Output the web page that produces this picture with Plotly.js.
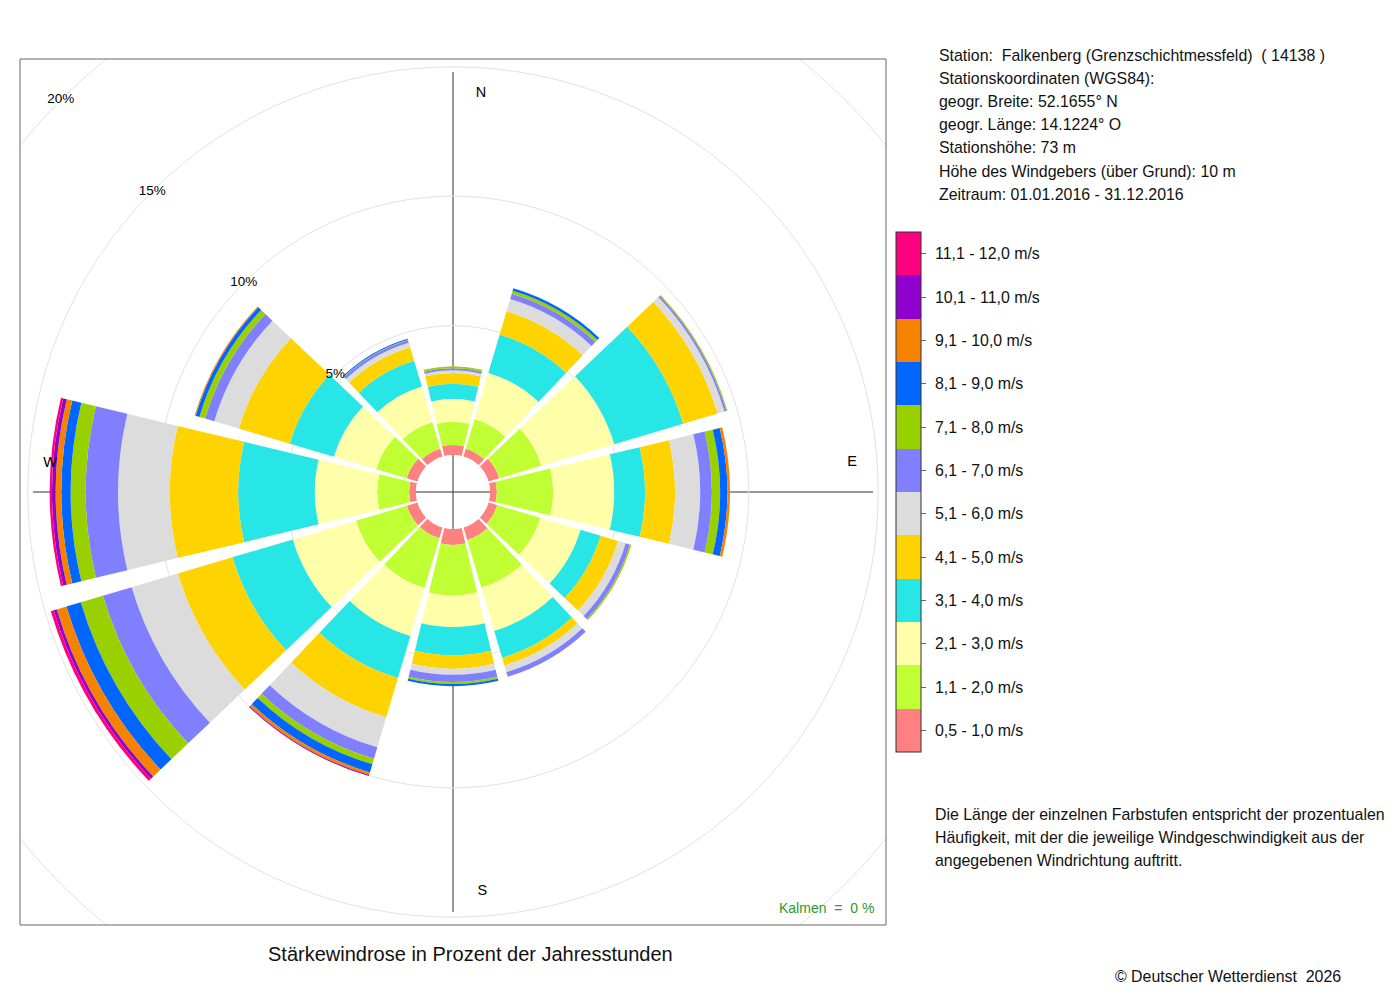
<!DOCTYPE html>
<html>
<head>
<meta charset="utf-8">
<script src="https://cdn.plot.ly/plotly-3.0.1.min.js"></script>
<style>
html,body{margin:0;padding:0;overflow:hidden;background:#fff;width:1400px;height:1000px;}
#chart{position:absolute;left:-200px;top:-200px;width:1600px;height:1400px;}
</style>
</head>
<body>
<div id="chart"></div>
<script>
// ---------------- data ----------------
const directions = [0, 30, 60, 90, 120, 150, 180, 210, 240, 270, 300, 330];
const speedClasses = [
  "0,5 - 1,0 m/s", "1,1 - 2,0 m/s", "2,1 - 3,0 m/s", "3,1 - 4,0 m/s",
  "4,1 - 5,0 m/s", "5,1 - 6,0 m/s", "6,1 - 7,0 m/s", "7,1 - 8,0 m/s",
  "8,1 - 9,0 m/s", "9,1 - 10,0 m/s", "10,1 - 11,0 m/s", "11,1 - 12,0 m/s"
];
const classColors = [
  "#FF8080", "#BFFF33", "#FFFFAA", "#29E6E6", "#FFD300", "#DCDCDC",
  "#8080FF", "#99D100", "#0066FF", "#F58200", "#8F00CC", "#FF0080"
];
// percent of annual hours, per direction (N, 30, 60, E, 120, 150, S, 210, 240, W, 300, 330)
const s05_10  = [0.39, 0.31, 0.43, 0.26, 0.35, 0.50, 0.62, 0.43, 0.43, 0.26, 0.43, 0.31];
const s11_20  = [0.89, 1.20, 1.70, 2.18, 1.74, 1.93, 1.94, 2.01, 2.05, 1.24, 1.24, 1.08];
const s21_30  = [0.89, 1.86, 2.94, 2.36, 1.62, 1.74, 1.23, 1.93, 2.55, 2.41, 1.70, 1.43];
const s31_40  = [0.58, 1.55, 2.78, 1.19, 0.81, 1.08, 1.09, 1.70, 2.43, 2.96, 1.78, 1.04];
const s41_50  = [0.42, 0.93, 1.39, 1.16, 0.70, 0.31, 0.52, 1.58, 2.20, 2.64, 2.05, 0.54];
const s51_60  = [0.10, 0.50, 0.27, 0.97, 0.31, 0.27, 0.23, 1.21, 1.86, 2.00, 0.99, 0.19];
const s61_70  = [0.08, 0.21, 0.08, 0.45, 0.17, 0.19, 0.28, 0.46, 1.16, 1.25, 0.37, 0.10];
const s71_80  = [0.08, 0.12, 0.04, 0.32, 0.06, 0.00, 0.08, 0.22, 0.89, 0.58, 0.23, 0.02];
const s81_90  = [0.00, 0.10, 0.00, 0.28, 0.00, 0.00, 0.08, 0.33, 0.58, 0.36, 0.15, 0.04];
const s91_100 = [0.00, 0.00, 0.00, 0.10, 0.00, 0.00, 0.00, 0.11, 0.39, 0.22, 0.04, 0.00];
const s101_110= [0.00, 0.00, 0.00, 0.00, 0.00, 0.00, 0.00, 0.04, 0.12, 0.14, 0.00, 0.00];
const s111_120= [0.00, 0.00, 0.00, 0.00, 0.00, 0.00, 0.00, 0.00, 0.12, 0.09, 0.00, 0.00];
const classValues = [s05_10, s11_20, s21_30, s31_40, s41_50, s51_60, s61_70, s71_80, s81_90, s91_100, s101_110, s111_120];

const radialTicks = [5, 10, 15, 20];
const radialTickText = ["5%", "10%", "15%", "20%"];
const compassLabels = ["N", "E", "S", "W"];
const compassTheta = [4.0, 85.8, 175.8, 274.1];
const compassR = [14.03, 14.03, 14.03, 14.18];

const infoLines = [
  "Station:\u00a0\u00a0Falkenberg (Grenzschichtmessfeld)\u00a0\u00a0( 14138 )",
  "Stationskoordinaten (WGS84):",
  "geogr. Breite: 52.1655° N",
  "geogr. Länge: 14.1224° O",
  "Stationshöhe: 73 m",
  "Höhe des Windgebers (über Grund): 10 m",
  "Zeitraum: 01.01.2016 - 31.12.2016"
];
const noteLines = [
  "Die Länge der einzelnen Farbstufen entspricht der prozentualen",
  "Häufigkeit, mit der die jeweilige Windgeschwindigkeit aus der",
  "angegebenen Windrichtung auftritt."
];

// ---------------- layout geometry (window px -> paper) ----------------
const OX = 200, OY = 200, FW = 1600, FH = 1400;
const X = wx => (wx + OX) / FW;
const Y = wy => 1 - (wy + OY) / FH;
const CX = 453, CY = 492;        // polar centre in window px
const HOLE = 37;                 // px radius of the empty centre
const PXPCT = 25.88;             // px per percent
const RMAX = 21;
const R = HOLE + PXPCT * RMAX;   // outer radius of polar area

const FONT = '"Liberation Sans", Arial, Helvetica, sans-serif';
const TXT = 15.9;

// ---------------- traces ----------------
const traces = [];
// compass labels (drawn under the bars)
traces.push({
  type: 'scatterpolar', mode: 'text', r: compassR, theta: compassTheta,
  text: compassLabels, textposition: 'middle center',
  textfont: {family: FONT, size: 14.5, color: '#000'},
  hoverinfo: 'skip', showlegend: false
});
classValues.forEach((vals, i) => {
  traces.push({
    type: 'barpolar', r: vals, theta: directions, width: 27,
    name: speedClasses[i],
    marker: {color: classColors[i], line: {width: 0}},
    hoverinfo: 'skip', showlegend: false
  });
});
// radial percentage labels
traces.push({
  type: 'scatterpolar', mode: 'text', r: radialTicks, theta: radialTicks.map(() => 315),
  text: radialTickText, textposition: 'middle center',
  textfont: {family: FONT, size: 13.5, color: '#000'},
  hoverinfo: 'skip', showlegend: false
});
// colour key
const cs = [];
classColors.forEach((c, i) => { cs.push([i / 12, c]); cs.push([(i + 1) / 12, c]); });
traces.push({
  type: 'scatterpolar', mode: 'markers', r: [0], theta: [0],
  marker: {
    size: 1, opacity: 0, color: [0], cmin: 0, cmax: 12, colorscale: cs, showscale: true,
    colorbar: {
      x: X(896), xanchor: 'left', y: Y(752), yanchor: 'bottom',
      xpad: 0, ypad: 0, thicknessmode: 'pixels', thickness: 25,
      lenmode: 'pixels', len: 520,
      outlinewidth: 1, outlinecolor: '#333', borderwidth: 0,
      tickmode: 'array', tickvals: speedClasses.map((_, i) => i + 0.5), ticktext: speedClasses,
      showticklabels: false,
      ticks: 'outside', ticklen: 5, tickwidth: 1, tickcolor: '#666'
    }
  },
  hoverinfo: 'skip', showlegend: false
});

// ---------------- annotations ----------------
const annotations = [];
infoLines.forEach((t, i) => annotations.push({
  xref: 'paper', yref: 'paper', x: X(937), y: Y(55 + i * 23.2), xanchor: 'left', yanchor: 'middle',
  text: t, showarrow: false, font: {family: FONT, size: TXT, color: '#111'}
}));
speedClasses.forEach((t, i) => annotations.push({
  xref: 'paper', yref: 'paper', x: X(933), y: Y(752 - (i + 0.5) * 520 / 12), xanchor: 'left', yanchor: 'middle',
  text: t, showarrow: false, font: {family: FONT, size: TXT, color: '#111'}
}));
noteLines.forEach((t, i) => annotations.push({
  xref: 'paper', yref: 'paper', x: X(933), y: Y(814 + i * 23), xanchor: 'left', yanchor: 'middle',
  text: t, showarrow: false, font: {family: FONT, size: TXT, color: '#111'}
}));
annotations.push({
  xref: 'paper', yref: 'paper', x: X(470), y: Y(954), xanchor: 'center', yanchor: 'middle',
  text: 'Stärkewindrose in Prozent der Jahresstunden', showarrow: false,
  font: {family: FONT, size: 20, color: '#111'}
});
annotations.push({
  xref: 'paper', yref: 'paper', x: X(876), y: Y(908), xanchor: 'right', yanchor: 'middle',
  text: 'Kalmen\u00a0\u00a0=\u00a0\u00a00 %', showarrow: false,
  font: {family: FONT, size: 14, color: '#2E9A2E'}
});
annotations.push({
  xref: 'paper', yref: 'paper', x: X(1343), y: Y(976), xanchor: 'right', yanchor: 'middle',
  text: '© Deutscher Wetterdienst\u00a0\u00a02026', showarrow: false,
  font: {family: FONT, size: TXT, color: '#111'}
});

// ---------------- shapes ----------------
const white = {type: 'rect', xref: 'paper', yref: 'paper', layer: 'above', fillcolor: '#fff', line: {width: 0}};
const shapes = [
  // cross through the centre (under the bars)
  {type: 'line', xref: 'paper', yref: 'paper', layer: 'below', x0: X(CX), x1: X(CX), y0: Y(72), y1: Y(912), line: {color: '#999', width: 2}},
  {type: 'line', xref: 'paper', yref: 'paper', layer: 'below', x0: X(33), x1: X(873), y0: Y(CY), y1: Y(CY), line: {color: '#333', width: 1}},
  // masks outside the plot box
  Object.assign({}, white, {x0: 0, x1: 1, y0: Y(59), y1: 1}),
  Object.assign({}, white, {x0: 0, x1: 1, y0: 0, y1: Y(925)}),
  Object.assign({}, white, {x0: 0, x1: X(20), y0: Y(925), y1: Y(59)}),
  Object.assign({}, white, {x0: X(886), x1: 1, y0: Y(925), y1: Y(59)}),
  // plot box
  {type: 'rect', xref: 'paper', yref: 'paper', layer: 'above', x0: X(20), x1: X(886), y0: Y(925), y1: Y(59),
   fillcolor: 'rgba(0,0,0,0)', line: {color: '#666', width: 1}}
];

const layout = {
  width: FW, height: FH, margin: {l: 0, r: 0, t: 0, b: 0, pad: 0},
  paper_bgcolor: '#fff', showlegend: false, hovermode: false,
  font: {family: FONT},
  polar: {
    domain: {x: [X(CX - R), X(CX + R)], y: [Y(CY + R), Y(CY - R)]},
    hole: HOLE / R, bgcolor: 'rgba(0,0,0,0)', barmode: 'stack',
    radialaxis: {range: [0, RMAX], tickmode: 'array', tickvals: radialTicks, showticklabels: false,
                 ticks: '', showline: false, gridcolor: '#E2E2E2', gridwidth: 1, layer: 'below traces'},
    angularaxis: {rotation: 90, direction: 'clockwise', showgrid: false, showline: false,
                  showticklabels: false, ticks: '', layer: 'below traces'}
  },
  annotations: annotations,
  shapes: shapes
};

Plotly.newPlot('chart', traces, layout, {staticPlot: true, displayModeBar: false});
</script>
</body>
</html>
